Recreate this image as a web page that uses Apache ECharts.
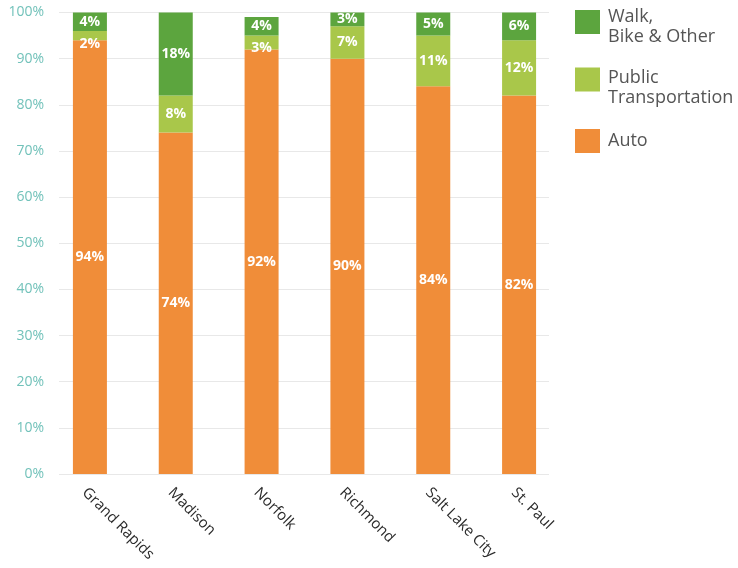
<!DOCTYPE html>
<html>
<head>
<meta charset="utf-8">
<script src="https://cdn.jsdelivr.net/npm/echarts@6/dist/echarts.min.js"></script>
<style>
  html, body { margin: 0; padding: 0; background: #ffffff; }
  #chart { width: 738px; height: 568px; }
</style>
</head>
<body>
<div id="chart"></div>
<script>
// Commute mode share by city (percent of commuters)
const cities = ['Grand Rapids', 'Madison', 'Norfolk', 'Richmond', 'Salt Lake City', 'St. Paul'];
const auto = [94, 74, 92, 90, 84, 82];
const publicTransit = [2, 8, 3, 7, 11, 12];
const walkBikeOther = [4, 18, 4, 3, 5, 6];

const COLORS = {
  walk: '#5ca53e',
  transit: '#a9c74a',
  auto: '#f08d39'
};
const FONT = '"Open Sans", "Noto Sans", sans-serif';

// thin transit segments get their label nudged below the strip
const transitLabelNudge = { 'Grand Rapids': 8, 'Norfolk': 6 };

// square swatch sitting in the upper part of a taller item box,
// so a two-line caption hangs a little below the swatch
function swatch(boxHeight) {
  return 'path://M0,0h25v24h-25z M0,' + boxHeight;
}

const chart = echarts.init(document.getElementById('chart'), null, { renderer: 'canvas' });

const valueLabel = {
  show: true,
  position: 'inside',
  formatter: '{c}%',
  color: '#ffffff',
  fontFamily: FONT,
  fontWeight: 'bold',
  fontSize: 14
};

function legendBox(name, top, boxHeight) {
  return {
    data: [name],
    left: 575,
    top: top,
    padding: 0,
    orient: 'vertical',
    icon: boxHeight ? swatch(boxHeight) : 'rect',
    itemWidth: 25,
    itemHeight: boxHeight || 24,
    selectedMode: false,
    textStyle: {
      color: '#555555',
      fontFamily: FONT,
      fontSize: 18,
      lineHeight: 20,
      padding: [0, 0, 0, 3]
    }
  };
}

chart.setOption({
  animation: false,
  legend: [
    legendBox('Walk,\nBike & Other', 6.5, 33),
    legendBox('Public\nTransportation', 67.5, 40),
    legendBox('Auto', 129, 0)
  ],
  grid: [
    // grid 0 carries the percentage scale and gridlines
    { left: 59, right: 189, top: 12.5, bottom: 94 },
    // grid 1 carries the city columns
    { left: 47, right: 176, top: 12.5, bottom: 94 }
  ],
  xAxis: [
    { gridIndex: 0, type: 'value', show: false, min: 0, max: 1 },
    {
      gridIndex: 1,
      type: 'category',
      data: cities,
      axisLine: { show: false },
      axisTick: { show: false },
      axisLabel: {
        rotate: -45,
        margin: 11,
        interval: 0,
        verticalAlign: 'top',
        color: '#2a2a2a',
        fontFamily: FONT,
        fontSize: 15
      }
    }
  ],
  yAxis: [
    {
      gridIndex: 0,
      type: 'value',
      min: 0,
      max: 100,
      interval: 10,
      axisLine: { show: false },
      axisTick: { show: false },
      splitLine: { lineStyle: { color: '#e8e8e8', width: 1 } },
      axisLabel: {
        formatter: '{value}%',
        margin: 15,
        color: '#72c2ba',
        fontFamily: FONT,
        fontSize: 14
      }
    },
    { gridIndex: 1, type: 'value', min: 0, max: 100, show: false }
  ],
  series: [
    {
      name: 'Auto',
      type: 'bar',
      xAxisIndex: 1,
      yAxisIndex: 1,
      stack: 'mode',
      barWidth: 34,
      data: auto,
      itemStyle: { color: COLORS.auto },
      label: valueLabel
    },
    {
      name: 'Public\nTransportation',
      type: 'bar',
      xAxisIndex: 1,
      yAxisIndex: 1,
      stack: 'mode',
      barWidth: 34,
      data: publicTransit.map((v, i) => {
        const dy = transitLabelNudge[cities[i]];
        return dy ? { value: v, label: { offset: [0, dy] } } : v;
      }),
      itemStyle: { color: COLORS.transit },
      label: valueLabel
    },
    {
      name: 'Walk,\nBike & Other',
      type: 'bar',
      xAxisIndex: 1,
      yAxisIndex: 1,
      stack: 'mode',
      barWidth: 34,
      data: walkBikeOther,
      itemStyle: { color: COLORS.walk },
      label: valueLabel
    }
  ]
});
</script>
</body>
</html>
